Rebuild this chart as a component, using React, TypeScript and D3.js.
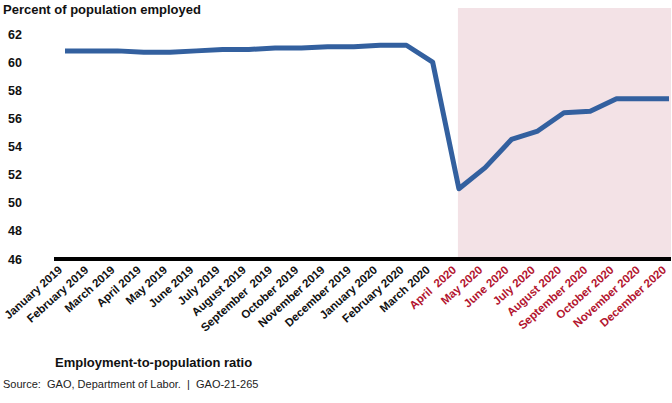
import React from 'react';
import * as d3 from 'd3';

const months = [
  'January 2019', 'February 2019', 'March 2019', 'April 2019', 'May 2019', 'June 2019',
  'July 2019', 'August 2019', 'September  2019', 'October 2019', 'November 2019', 'December 2019',
  'January 2020', 'February 2020', 'March 2020', 'April  2020', 'May 2020', 'June 2020',
  'July 2020', 'August 2020', 'September 2020', 'October 2020', 'November 2020', 'December 2020',
];
const ratio = [
  60.8, 60.8, 60.8, 60.7, 60.7, 60.8, 60.9, 60.9, 61.0, 61.0, 61.1, 61.1,
  61.2, 61.2, 60.0, 51.0, 52.5, 54.5, 55.1, 56.4, 56.5, 57.4, 57.4, 57.4,
];
const yTicks = [46, 48, 50, 52, 54, 56, 58, 60, 62];
const shadeStart = 'April  2020';

const font = 'Liberation Sans, Arial, sans-serif';

export default function App() {
  const width = 672;
  const height = 403;

  // Skalen
  const x = d3.scalePoint<string>().domain(months).range([65, 669]);
  const y = d3.scaleLinear().domain([46, 62]).range([259, 34]);

  const line = d3.line<number>()
    .x((_, i) => x(months[i])!)
    .y(d => y(d));

  const shadeIdx = months.indexOf(shadeStart);

  return (
    <svg width={width} height={height}
         style={{position: 'absolute', left: 0, top: 0, background: '#fff'}}
         fontFamily={font}>
      {/* Schattierter Bereich ab April 2020 */}
      <rect x={x(shadeStart)! - 1} y={8} width={671 - (x(shadeStart)! - 1)} height={y(46) - 8}
            fill="#f3e2e6" />

      <text x={3} y={14} fontSize={13} fontWeight="bold" fill="#111">Percent of population employed</text>

      {yTicks.map(t => (
        <text key={t} x={8} y={y(t)} dy="0.36em" fontSize={12.5} fontWeight="bold" fill="#111">{t}</text>
      ))}

      <path d={line(ratio)!} fill="none" stroke="#33609f" strokeWidth={5} strokeLinejoin="round" />

      {/* Achse */}
      <line x1={54} x2={671} y1={y(46)} y2={y(46)} stroke="#000" strokeWidth={4} />

      {months.map((m, i) => (
        <text key={m}
              transform={`translate(${x(m)! - 2}, ${271}) rotate(-42)`}
              textAnchor="end"
              fontSize={11.5}
              fontWeight="bold"
              style={{whiteSpace: 'pre'}}
              fill={i >= shadeIdx ? '#b3152f' : '#111'}>{m}</text>
      ))}

      <text x={55} y={367} fontSize={13} fontWeight="bold" fill="#111">Employment-to-population ratio</text>
      <text x={3} y={388} fontSize={11} fill="#222" style={{whiteSpace: 'pre'}}>Source:  GAO, Department of Labor.  |  GAO-21-265</text>
    </svg>
  );
}
